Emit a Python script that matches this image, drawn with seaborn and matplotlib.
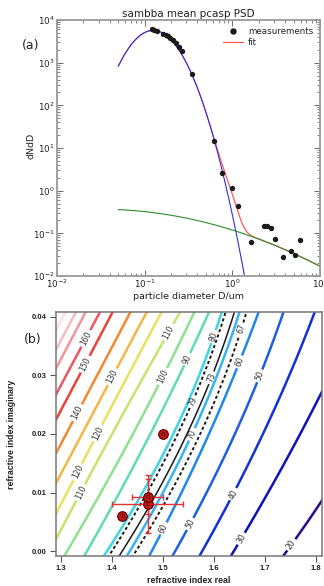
import numpy as np
import pandas as pd
import matplotlib
matplotlib.use("Agg")
import matplotlib.pyplot as plt
from matplotlib.lines import Line2D
import seaborn as sns

# ---------------- panel (a): mean PCASP size distribution ----------------
diam_um = [0.122, 0.129, 0.137, 0.163, 0.174, 0.183, 0.195, 0.209, 0.226,
           0.247, 0.269, 0.347, 0.612, 0.762, 0.984, 1.16, 1.62, 2.30, 2.50,
           2.74, 3.07, 3.75, 4.63, 5.22, 5.96]
dndlogd = [6050, 5820, 5520, 4690, 4380, 4150, 3850, 3450, 2840, 2330, 1840,
           542, 14.6, 2.55, 1.17, 0.436, 0.0627, 0.151, 0.151, 0.131, 0.0736,
           0.0283, 0.0379, 0.0305, 0.0698]

# lognormal fit modes: (amplitude, median diameter in um, geometric std dev)
fine_mode = (5700.0, 0.125, 1.594)
mid_mode = (1.0, 0.75, 1.25)
coarse_mode = (0.369, 0.0298, 10.4)

# ---------------- panel (b): retrieved size vs refractive index ----------------
# contour level and the real index at which it crosses imaginary index 0, 0.02, 0.04
ri_levels = [190, 180, 170, 160, 150, 140, 130, 120, 110, 100, 90, 80, 70, 60, 50, 40, 30, 20]
ri_n_k000 = [1.061, 1.080, 1.100, 1.128, 1.153, 1.188, 1.220, 1.253, 1.278,
             1.312, 1.351, 1.390, 1.435, 1.478, 1.524, 1.577, 1.639, 1.743]
ri_n_k020 = [1.182, 1.202, 1.222, 1.249, 1.275, 1.310, 1.341, 1.371, 1.400,
             1.441, 1.475, 1.520, 1.557, 1.590, 1.641, 1.696, 1.769, 1.892]
ri_n_k040 = [1.304, 1.324, 1.343, 1.371, 1.396, 1.431, 1.463, 1.492, 1.528,
             1.557, 1.586, 1.612, 1.647, 1.684, 1.733, 1.794, 1.882, 2.004]
ri_colors = ['#fbe1e3', '#f6bcc0', '#f2959c', '#ec5660', '#e9443c', '#f2892f',
             '#f5b548', '#ebe05c', '#c6e46c', '#90e08e', '#60dbb5', '#3fd5e6',
             '#35b3f2', '#2089e8', '#1e5ee0', '#1232d6', '#0c14ba', '#2a0a8a']

# measured size (73) and its bounds (79, 67)
obs_levels = [79, 73, 67]
obs_n_k000 = [1.400, 1.420, 1.447]
obs_n_k020 = [1.529, 1.547, 1.573]
obs_n_k040 = [1.620, 1.637, 1.661]

case_labels = ['a', 'b', 'c', 'd']
case_n = [1.50, 1.42, 1.47, 1.47]
case_k = [0.020, 0.006, 0.008, 0.0093]
case_n_err = [0.0, 0.0, 0.07, 0.03]
case_k_err = [0.0, 0.0, 0.005, 0.003]

x_ticks_b = [1.3, 1.4, 1.5, 1.6, 1.7, 1.8]
y_ticks_b = [0.00, 0.01, 0.02, 0.03, 0.04]


def lognormal(d, amp, dg, sg):
    return amp * np.exp(-np.log(d / dg) ** 2 / (2.0 * np.log(sg) ** 2))


sns.set_theme(style="ticks")
plt.rcParams["font.family"] = ["DejaVu Sans"]
plt.rcParams["mathtext.default"] = "regular"

fig = plt.figure(figsize=(3.24, 5.86), dpi=100)

# ======================= panel (a) =======================
axa = fig.add_axes([57 / 324, 1 - 276 / 586, 263 / 324, 256 / 586])
axa.set_xscale("log")
axa.set_yscale("log")

d_all = np.geomspace(0.05, 10, 600)
d_fine = np.geomspace(0.05, 1.5, 400)
total_fit = lognormal(d_all, *fine_mode) + lognormal(d_all, *mid_mode) + lognormal(d_all, *coarse_mode)

sns.lineplot(x=d_all, y=total_fit, ax=axa, color="#ff4a4a", lw=0.8, sort=False, estimator=None)
sns.lineplot(x=d_fine, y=lognormal(d_fine, *fine_mode), ax=axa, color="#2f2fe0", lw=0.8,
             sort=False, estimator=None)
sns.lineplot(x=d_all, y=lognormal(d_all, *coarse_mode), ax=axa, color="#2a8f2a", lw=0.8,
             sort=False, estimator=None)
sns.scatterplot(x=diam_um, y=dndlogd, ax=axa, color="k", s=15, linewidth=0, zorder=5)

axa.set_xlim(0.01, 10)
axa.set_ylim(0.01, 1e4)
axa.set_title("sambba mean pcasp PSD", fontsize=7.5, pad=2, color="#222")
axa.set_xlabel("particle diameter D/um", fontsize=6.8, color="#222")
axa.set_ylabel("dNdD", fontsize=6.8, color="#222")
axa.xaxis.set_label_coords(0.5, -0.063)
axa.yaxis.set_label_coords(-0.08, 0.51)
axa.tick_params(which="both", direction="in", top=True, right=True, colors="#555",
                labelcolor="#222", labelsize=6.3, pad=1.5)
axa.tick_params(which="major", length=4, width=0.6)
axa.tick_params(which="minor", length=2, width=0.5)
for sp in axa.spines.values():
    sp.set_color("#9a9a9a")
    sp.set_linewidth(1.3)

handles = [Line2D([], [], marker="o", color="k", ls="", ms=3.6),
           Line2D([], [], color="#ff4a4a", lw=0.8)]
axa.legend(handles, ["measurements", "fit"], loc="upper right", frameon=False,
           fontsize=6.3, handlelength=2.3, borderaxespad=0.35, labelspacing=0.25,
           handletextpad=0.6, numpoints=1)
fig.text(31 / 324, 1 - 45 / 586, "(a)", fontsize=9, ha="center", va="center", color="#222")

# ======================= panel (b) =======================
axb = fig.add_axes([56 / 324, 1 - 556 / 586, 266 / 324, 244 / 586])

table = pd.DataFrame({
    "level": ri_levels + obs_levels,
    "k000": ri_n_k000 + obs_n_k000,
    "k020": ri_n_k020 + obs_n_k020,
    "k040": ri_n_k040 + obs_n_k040,
}).sort_values("k000").reset_index(drop=True)

n_grid = np.linspace(1.25, 1.85, 700)
k_grid = np.linspace(-0.002, 0.042, 221)
Z = np.empty((k_grid.size, n_grid.size))
lev_vals = table["level"].values
for i, k in enumerate(k_grid):
    # quadratic path of each contour through its three crossing points
    t = k / 0.02
    w0 = (t - 1) * (t - 2) / 2.0
    w1 = -t * (t - 2)
    w2 = t * (t - 1) / 2.0
    p = (w0 * table["k000"] + w1 * table["k020"] + w2 * table["k040"]).values
    xp = np.r_[p[0] - 1.0, p, p[-1] + 1.0]
    fp = np.r_[lev_vals[0] + 100, lev_vals, lev_vals[-1] - 100]
    Z[i] = np.interp(n_grid, xp, fp)

order = np.argsort(ri_levels)
lev_sorted = [ri_levels[j] for j in order]
col_sorted = [ri_colors[j] for j in order]

cs = axb.contour(n_grid, k_grid, Z, levels=lev_sorted, colors=col_sorted, linewidths=1.8)
cs_obs = axb.contour(n_grid, k_grid, Z, levels=[73], colors="k", linewidths=1.1)
cs_bnd = axb.contour(n_grid, k_grid, Z, levels=[67, 79], colors="k", linewidths=1.4)
cs_bnd.set_linestyle((0, (1.6, 1.3)))

label_font = dict(fontsize=5.5, colors="#333", inline=True, inline_spacing=1.5, fmt="%d")
axb.clabel(cs, manual=[(1.347, 0.0364), (1.351, 0.0318), (1.333, 0.0236), (1.402, 0.0297),
                       (1.371, 0.0202), (1.333, 0.0135), (1.514, 0.0373), (1.341, 0.0099),
                       (1.504, 0.0297), (1.553, 0.0326), (1.602, 0.0366), (1.549, 0.0202),
                       (1.651, 0.0323), (1.500, 0.0039), (1.684, 0.0301), (1.549, 0.0048),
                       (1.627, 0.0101), (1.651, 0.0022), (1.749, 0.0012)], **label_font)
axb.clabel(cs_obs, manual=[(1.592, 0.0297)], **label_font)
axb.clabel(cs_bnd, manual=[(1.549, 0.0258), (1.647, 0.0381)], **label_font)

for n, k, en, ek in zip(case_n, case_k, case_n_err, case_k_err):
    if en > 0 or ek > 0:
        axb.errorbar(n, k, xerr=en, yerr=ek, fmt="none", ecolor="#e83030",
                     elinewidth=1.0, capsize=2.5, capthick=1.0, zorder=6)

cases = pd.DataFrame({"n": case_n, "k": case_k, "label": case_labels})
sns.scatterplot(data=cases, x="n", y="k", ax=axb, color="#c81414", s=48,
                edgecolor="#5a0000", linewidth=0.8, zorder=7)
for _, r in cases.iterrows():
    axb.text(r["n"], r["k"], r["label"], fontsize=5.2, ha="center", va="center",
             color="#222", zorder=8)

axb.set_xlim(1.29, 1.812)
axb.set_ylim(-0.00085, 0.04085)
axb.set_xticks(x_ticks_b)
axb.set_yticks(y_ticks_b)
axb.set_xticklabels([f"{v:.1f}" for v in x_ticks_b])
axb.set_yticklabels([f"{v:.2f}" for v in y_ticks_b])
bold_font = ["Liberation Sans", "DejaVu Sans"]
for t in axb.get_xticklabels() + axb.get_yticklabels():
    t.set_fontfamily(bold_font)
    t.set_fontweight("bold")
    t.set_fontsize(5.5)
    t.set_color("#222")
axb.tick_params(direction="out", length=4.5, width=0.8, colors="#555", labelcolor="#222", pad=2)
axb.set_xlabel("refractive index real", fontsize=6.3, fontweight="bold",
               family=bold_font, color="#222")
axb.set_ylabel("refractive index imaginary", fontsize=6.3, fontweight="bold",
               family=bold_font, color="#222")
axb.xaxis.set_label_coords(0.5, -0.082)
axb.yaxis.set_label_coords(-0.15, 0.5)
for sp in axb.spines.values():
    sp.set_color("#777")
    sp.set_linewidth(1.1)
fig.text(33 / 324, 1 - 339 / 586, "(b)", fontsize=9, ha="center", va="center", color="#222")

fig.savefig("out.png", dpi=100)
